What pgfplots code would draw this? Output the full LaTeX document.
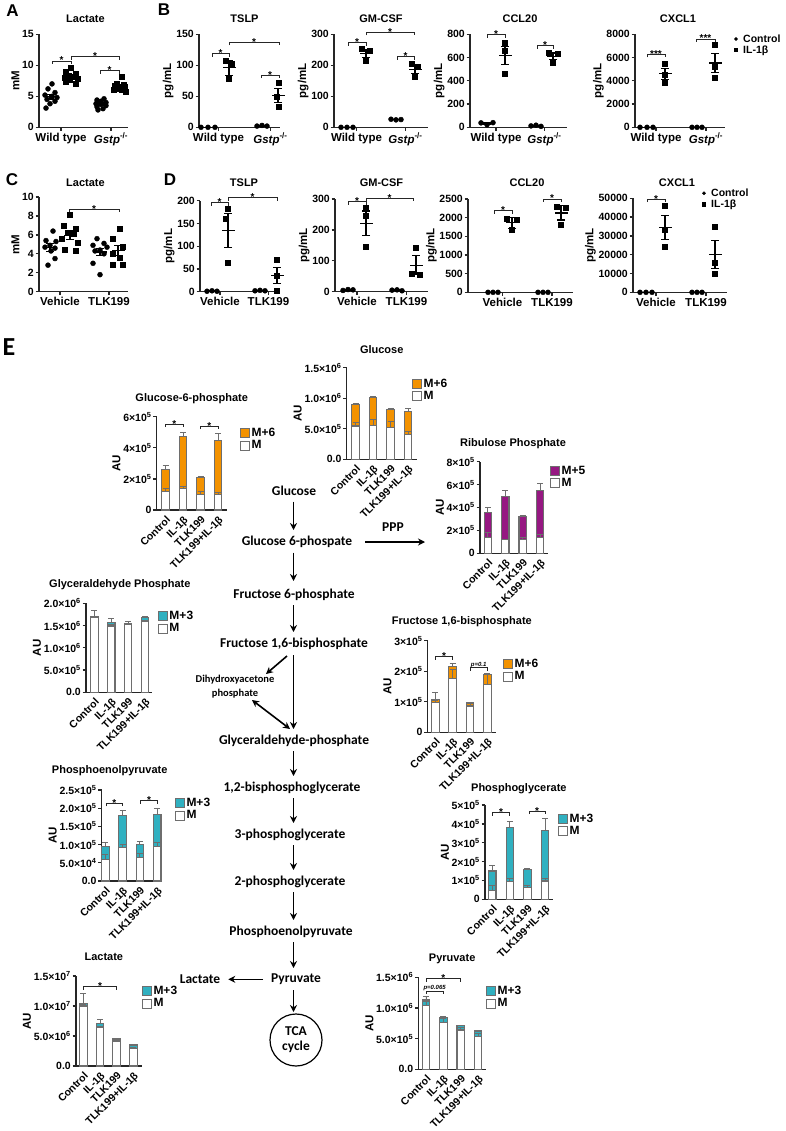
\documentclass[border=0pt]{standalone}
\usepackage{fontspec}
\setmainfont{Liberation Sans}
\newfontfamily\cali{Carlito}
\usepackage{pgfplots}
\pgfplotsset{compat=1.18}
\usetikzlibrary{calc,arrows.meta}
\definecolor{orng}{RGB}{243,146,0}
\definecolor{purp}{RGB}{150,24,130}
\definecolor{tealc}{RGB}{48,176,192}
\definecolor{edge}{RGB}{110,110,110}
\pgfplotsset{
 base/.style={scale only axis, anchor=south west, axis lines=left,
   axis line style={-, line width=1.3pt, black!85}, tick style={line width=1.3pt, black!85},
   tick align=outside, major tick length=3.5pt, minor tick length=0pt, ymin=0, clip=false,
   scaled y ticks=false, /pgf/number format/1000 sep={}, /pgf/number format/assume math mode=true,
   ylabel style={font=\fontsize{11.5}{13}\selectfont, inner sep=1pt},
   yticklabel style={font=\fontsize{10.5}{12}\selectfont, inner sep=1.5pt}},
 sc/.style={base, xticklabel style={font=\fontsize{11.5}{13}\selectfont, inner sep=2pt}, ylabel={pg/mL}},
 scleg/.style={legend style={draw=none, fill=none, inner sep=0pt, row sep=-0.5pt, at={(1,1)}, anchor=north west,
   font=\fontsize{10.5}{12}\selectfont, nodes={inner sep=1.2pt}}, legend cell align=left,
   legend image code/.code={\path[draw=none, fill=none] (0pt,-2pt) rectangle (8pt,2pt); \draw[mark repeat=2,mark phase=2,##1, mark size=1.6pt] plot coordinates {(0pt,0pt)(2pt,0pt)(8pt,0pt)};}},
 br/.style={base, xtick={0,1,2,3}, xticklabels={Control,IL-1β,TLK199,TLK199+IL-1β}, xtick style={draw=none},
   xticklabel style={rotate=45, anchor=north east, font=\fontsize{10.5}{12}\selectfont, inner sep=1pt},
   yticklabel style={font=\fontsize{10.5}{12}\selectfont}, ylabel={AU},
   legend image code/.code={\draw[##1] (0pt,-4.5pt) rectangle (9pt,4.5pt);},
   legend style={draw=none, fill=none, inner sep=0pt, row sep=0pt, at={(1,1)}, anchor=north west,
   font=\fontsize{12}{13}\selectfont, nodes={inner sep=1.2pt}}, legend cell align=left},
 dot/.style={only marks, mark=*, mark size=2.5pt, black},
 sq/.style={only marks, mark=square*, mark size=2.5pt, black},
 mean/.style={only marks, mark=-, mark size=6.5pt, mark options={line width=1.2pt}, black,
   error bars/y dir=both, error bars/y explicit, error bars/error bar style={line width=1.2pt},
   error bars/error mark options={rotate=90, mark size=4pt, line width=1.2pt}},
 tot/.style={ybar, bar width=7.5pt, bar shift=0pt, draw=edge, line width=1.1pt,
   error bars/y dir=plus, error bars/y explicit, error bars/error bar style={line width=0.9pt, edge},
   error bars/error mark options={rotate=90, mark size=3pt, line width=0.9pt, edge}},
}
\newcommand{\brk}[5][-3pt]{%
 \draw[line width=0.9pt, black!85] (axis cs:#2,#4) ++(0pt,-3pt) -- ++(0pt,3pt) -- (axis cs:#3,#4) -- ++(0pt,-3pt);
 \node[anchor=base, inner sep=0pt, yshift=#1, font=\fontsize{10}{10}\selectfont] at ($(axis cs:#2,#4)!0.5!(axis cs:#3,#4)$) {#5};}
\newcommand{\ttl}[3]{\node[anchor=center, xshift=#3, yshift=#2, font=\fontsize{11}{13}\selectfont] at (rel axis cs:0.5,1) {#1};}
\newcommand{\pv}[1]{\fontsize{6}{6}\selectfont\itshape #1}
\begin{document}
\bfseries
\begin{tikzpicture}
\useasboundingbox (0pt,0pt) rectangle (785pt,-1131pt);
% panel letters
\node[font=\fontsize{17}{17}\selectfont] at (12.5pt,-11pt) {A};
\node[font=\fontsize{17}{17}\selectfont] at (164pt,-10pt) {B};
\node[font=\fontsize{17}{17}\selectfont] at (12pt,-180pt) {C};
\node[font=\fontsize{17}{17}\selectfont] at (170pt,-180pt) {D};
\node[font=\cali\bfseries\fontsize{26}{26}\selectfont] at (9pt,-347pt) {E};

% ---------- A ----------
\begin{axis}[sc, at={(39pt,-127.3pt)}, width=89pt, height=93pt, xmin=39, xmax=128, ymax=15,
  ytick={0,5,10,15}, xtick={61,111}, xticklabels={Wild type,\textit{Gstp}\textsuperscript{-/-}}, ylabel={mM}]
\addplot[dot] coordinates {(52,7.0)(48,6.2)(55,5.6)(45,5.2)(52,5.0)(57,4.8)(47,4.5)(55,4.2)(50,3.8)(46,3.1)};
\addplot[sq] coordinates {(71,9.6)(66,8.9)(76,8.6)(69,8.3)(74,8.1)(65,8.0)(78,7.8)(70,7.6)(66,7.3)(76,7.1)};
\addplot[dot] coordinates {(104,4.6)(97,4.4)(101,4.2)(106,4.0)(96,3.8)(101,3.7)(106,3.5)(97,3.3)(103,3.0)(98,2.8)};
\addplot[sq] coordinates {(122,8.2)(117,7.0)(124,6.8)(115,6.7)(120,6.6)(125,6.5)(117,6.3)(122,6.1)(114,6.0)(126,5.8)};
\addplot[mean] coordinates {(50,4.94)+-(0,0.36) (71,8.13)+-(0,0.25) (101,3.73)+-(0,0.19) (120,6.6)+-(0,0.22)};
\brk{52}{71}{10.7}{*}\brk{71}{119}{11.4}{*}\brk{100}{119}{9.1}{*}
\ttl{Lactate}{16pt}{2pt}
\end{axis}

% ---------- B TSLP ----------
\begin{axis}[sc, at={(199pt,-127.3pt)}, width=81pt, height=93pt, xmin=199, xmax=280, ymax=150,
  ytick={0,50,100,150}, xtick={218.5,270.5}, xticklabels={Wild type,\textit{Gstp}\textsuperscript{-/-}}]
\addplot[dot] coordinates {(201,0)(208,0)(215,0)(257,2)(262,3)(267,2)};
\addplot[sq] coordinates {(226,108)(232,103)(229,78)(279,72)(277,49)(279,33)};
\addplot[mean] coordinates {(208,0)+-(0,0) (229,96)+-(0,12) (262,2.3)+-(0,0.3) (278,51)+-(0,11)};
\brk{212}{229}{119}{*}\brk{229}{279}{137}{*}\brk{261}{279}{84}{*}
\ttl{TSLP}{16pt}{5pt}
\end{axis}

% ---------- B GM-CSF ----------
\begin{axis}[sc, at={(334pt,-127.3pt)}, width=94pt, height=93pt, xmin=334, xmax=428, ymax=300,
  ytick={0,100,200,300}, xtick={356.5,405.5}, xticklabels={Wild type,\textit{Gstp}\textsuperscript{-/-}}]
\addplot[dot] coordinates {(341,0)(347,0)(353,0)(391,26)(396,24)(401,25)};
\addplot[sq] coordinates {(362,252)(370,248)(366,215)(412,205)(418,195)(415,162)};
\addplot[mean] coordinates {(347,0)+-(0,0) (366,238)+-(0,12) (396,25)+-(0,1) (415,187)+-(0,13)};
\brk{348}{366}{273}{*}\brk{366}{414}{306}{*}\brk{397}{414}{228}{*}
\ttl{GM-CSF}{16pt}{0pt}
\end{axis}

% ---------- B CCL20 ----------
\begin{axis}[sc, at={(470pt,-127.3pt)}, width=97pt, height=93pt, xmin=470, xmax=567, ymax=800,
  ytick={0,200,400,600,800}, xtick={496,544.5}, xticklabels={Wild type,\textit{Gstp}\textsuperscript{-/-}}]
\addplot[dot] coordinates {(481,38)(487,22)(493,40)(531,12)(536,18)(541,8)};
\addplot[sq] coordinates {(505,728)(505,660)(505,458)(549,640)(558,635)(553,560)};
\addplot[mean] coordinates {(487,33)+-(0,5) (505,615)+-(0,78) (536,13)+-(0,3) (553,612)+-(0,27)};
\brk{487}{505}{795}{*}\brk{537}{553}{702}{*}
\ttl{CCL20}{16pt}{1.5pt}
\end{axis}

% ---------- B CXCL1 ----------
\begin{axis}[sc, scleg, at={(635pt,-127.3pt)}, width=90pt, height=93pt, xmin=635, xmax=725, ymax=8000,
  ytick={0,2000,4000,6000,8000}, xtick={656,706}, xticklabels={Wild type,\textit{Gstp}\textsuperscript{-/-}},
  legend style={xshift=8.8pt, yshift=1.3pt}]
\addplot[dot] coordinates {(640,0)(647,0)(653,0)(692,0)(697,0)(702,0)};
\addlegendentry{Control}
\addplot[sq] coordinates {(665,5500)(665,4500)(665,3800)(715,7100)(715,5200)(715,4300)};
\addlegendentry{IL-1β}
\addplot[mean, forget plot] coordinates {(647,0)+-(0,0) (665,4600)+-(0,470) (697,0)+-(0,0) (715,5530)+-(0,790)};
\brk{647}{665}{6280}{***}\brk{696}{715}{7600}{***}
\ttl{CXCL1}{16pt}{-2pt}
\end{axis}

% ---------- C ----------
\begin{axis}[sc, at={(39pt,-291.7pt)}, width=89pt, height=94.7pt, xmin=39, xmax=128, ymax=10,
  ytick={0,2,4,6,8,10}, xtick={60,109}, xticklabels={Vehicle,TLK199}, ylabel={mM}]
\addplot[dot] coordinates {(53,6.4)(46,5.4)(56,5.3)(50,4.9)(45,4.7)(55,4.6)(51,4.3)(55,3.5)(48,2.8)};
\addplot[sq] coordinates {(70,8.1)(64,7.0)(76,6.7)(68,6.2)(74,6.1)(62,5.6)(78,5.2)(65,4.4)(76,4.3)};
\addplot[dot] coordinates {(97,5.6)(104,5.1)(93,4.9)(107,4.7)(100,4.4)(95,4.3)(104,4.0)(93,3.0)(100,1.8)};
\addplot[sq] coordinates {(120,6.7)(113,5.6)(123,4.7)(113,4.0)(120,3.6)(113,2.9)(123,2.9)};
\addplot[mean] coordinates {(50,4.66)+-(0,0.4) (70,5.96)+-(0,0.45) (100,4.2)+-(0,0.4) (118,4.34)+-(0,0.55)};
\brk{69}{119}{8.7}{*}
\ttl{Lactate}{14.3pt}{2pt}
\end{axis}

% ---------- D TSLP ----------
\begin{axis}[sc, at={(200pt,-291.7pt)}, width=78pt, height=91pt, xmin=200, xmax=278, ymax=200,
  ytick={0,50,100,150,200}, xtick={220,268.5}, xticklabels={Vehicle,TLK199}]
\addplot[dot] coordinates {(207,1)(212,2)(217,1)(255,2)(260,3)(265,2)};
\addplot[sq] coordinates {(228,183)(226,160)(228,63)(277,70)(277,35)(277,2)};
\addplot[mean] coordinates {(212,1.3)+-(0,0.3) (228,135)+-(0,37) (260,2.3)+-(0,0.3) (277,36)+-(0,18)};
\brk{211}{228}{196}{*}\brk{228}{277}{207}{*}
\ttl{TSLP}{18pt}{5pt}
\end{axis}

% ---------- D GM-CSF ----------
\begin{axis}[sc, at={(335pt,-291.7pt)}, width=93pt, height=92.7pt, xmin=335, xmax=428, ymax=300,
  ytick={0,100,200,300}, xtick={357,406.5}, xticklabels={Vehicle,TLK199}]
\addplot[dot] coordinates {(343,4)(348,7)(353,6)(392,5)(397,6)(402,3)};
\addplot[sq] coordinates {(366,272)(366,246)(366,146)(416,143)(412,59)(420,55)};
\addplot[mean] coordinates {(348,5.7)+-(0,1) (366,221)+-(0,40) (397,4.7)+-(0,1) (416,86)+-(0,30)};
\brk{348}{366}{291}{*}\brk{366}{413}{303}{*}
\ttl{GM-CSF}{16.3pt}{0pt}
\end{axis}

% ---------- D CCL20 ----------
\begin{axis}[sc, at={(468pt,-292.3pt)}, width=105pt, height=93.3pt, xmin=468, xmax=573, ymax=2500,
  ytick={0,500,1000,1500,2000,2500}, xtick={502.5,552}, xticklabels={Vehicle,TLK199}]
\addplot[dot] coordinates {(488,0)(493,0)(498,0)(538,0)(543,0)(548,0)};
\addplot[sq] coordinates {(507,1960)(517,1940)(512,1680)(557,2300)(566,2280)(561,1800)};
\addplot[mean] coordinates {(493,0)+-(0,0) (512,1860)+-(0,140) (543,0)+-(0,0) (561,2127)+-(0,190)};
\brk{494}{512}{2180}{*}\brk{543}{561}{2500}{*}
\ttl{CCL20}{16.3pt}{6.5pt}
\end{axis}

% ---------- D CXCL1 ----------
\begin{axis}[sc, scleg, at={(633pt,-292.3pt)}, width=94pt, height=94pt, xmin=633, xmax=727, ymax=50000,
  ytick={0,10000,20000,30000,40000,50000}, xtick={656,706}, xticklabels={Vehicle,TLK199},
  legend style={xshift=-25.2pt, yshift=11pt}]
\addplot[dot] coordinates {(640,0)(646,0)(652,0)(692,0)(697,0)(702,0)};
\addlegendentry{Control}
\addplot[sq] coordinates {(665,46000)(665,33500)(665,24000)(715,35000)(715,15500)(715,10000)};
\addlegendentry{IL-1β}
\addplot[mean, forget plot] coordinates {(646,0)+-(0,0) (665,34500)+-(0,6300) (697,0)+-(0,0) (715,20170)+-(0,7500)};
\brk{647}{665}{49600}{*}
\ttl{CXCL1}{15.6pt}{-3pt}
\end{axis}

% ================= E =================
% Glucose-6-phosphate
\begin{axis}[br, at={(156.7pt,-510pt)}, width=70pt, height=93.3pt, xmin=-0.51, xmax=3.49, ymax=6e5,
  ytick={0,2e5,4e5,6e5}, yticklabels={0,2×10\textsuperscript{5},4×10\textsuperscript{5},6×10\textsuperscript{5}},
  legend style={xshift=13.3pt, yshift=-10.3pt}]
\addplot[tot, fill=orng] coordinates {(0,2.6e5)+-(0,0.28e5) (1,4.75e5)+-(0,0.25e5) (2,2.08e5)+-(0,0.08e5) (3,4.45e5)+-(0,0.5e5)};
\addlegendentry{M+6}
\addplot[tot, fill=white] coordinates {(0,1.2e5)+-(0,0.2e5) (1,1.4e5)+-(0,0.14e5) (2,1.0e5)+-(0,0.22e5) (3,1.02e5)+-(0,0.1e5)};
\addlegendentry{M}
\brk{0}{1}{5.53e5}{*}\brk{2}{3}{5.4e5}{*}
\ttl{Glucose-6-phosphate}{18.4pt}{0pt}
\end{axis}

% Glucose
\begin{axis}[br, at={(346.7pt,-459.3pt)}, width=70pt, height=91.5pt, xmin=-0.51, xmax=3.49, ymax=1.5e6,
  ytick={0,5e5,1e6,1.5e6}, yticklabels={0.0,5.0×10\textsuperscript{5},1.0×10\textsuperscript{6},1.5×10\textsuperscript{6}},
  legend style={xshift=-4.7pt, yshift=-9.8pt}]
\addplot[tot, fill=orng] coordinates {(0,0.90e6)+-(0,0.02e6) (1,1.016e6)+-(0,0.015e6) (2,0.81e6)+-(0,0.02e6) (3,0.78e6)+-(0,0.055e6)};
\addlegendentry{M+6}
\addplot[tot, fill=white] coordinates {(0,0.546e6)+-(0,0.06e6) (1,0.552e6)+-(0,0.10e6) (2,0.52e6)+-(0,0.10e6) (3,0.40e6)+-(0,0.05e6)};
\addlegendentry{M}
\ttl{Glucose}{18.7pt}{0pt}
\end{axis}

% Ribulose Phosphate
\begin{axis}[br, at={(480pt,-553.3pt)}, width=68pt, height=91.6pt, xmin=-0.45, xmax=3.45, ymax=8e5,
  ytick={0,2e5,4e5,6e5,8e5}, yticklabels={0,2×10\textsuperscript{5},4×10\textsuperscript{5},6×10\textsuperscript{5},8×10\textsuperscript{5}},
  legend style={xshift=2pt, yshift=-3.3pt}]
\addplot[tot, fill=purp] coordinates {(0,3.55e5)+-(0,0.45e5) (1,4.94e5)+-(0,0.53e5) (2,3.2e5)+-(0,0.1e5) (3,5.5e5)+-(0,0.6e5)};
\addlegendentry{M+5}
\addplot[tot, fill=white] coordinates {(0,1.4e5)+-(0,0.43e5) (1,1.22e5)+-(0,0.03e5) (2,1.22e5)+-(0,0.18e5) (3,1.37e5)+-(0,0.29e5)};
\addlegendentry{M}
\ttl{Ribulose Phosphate}{18.4pt}{-1pt}
\end{axis}

% Glyceraldehyde Phosphate
\begin{axis}[br, at={(86pt,-692.3pt)}, width=65.7pt, height=89pt, xmin=-0.5, xmax=3.4, ymax=2e6,
  ytick={0,5e5,1e6,1.5e6,2e6}, yticklabels={0.0,5.0×10\textsuperscript{5},1.0×10\textsuperscript{6},1.5×10\textsuperscript{6},2.0×10\textsuperscript{6}},
  legend style={xshift=6.3pt, yshift=-6.7pt}]
\addplot[tot, fill=tealc] coordinates {(0,1.71e6)+-(0,0.12e6) (1,1.566e6)+-(0,0.1e6) (2,1.55e6)+-(0,0.04e6) (3,1.69e6)+-(0,0.02e6)};
\addlegendentry{M+3}
\addplot[tot, fill=white] coordinates {(0,1.69e6)+-(0,0.02e6) (1,1.49e6)+-(0,0.03e6) (2,1.52e6)+-(0,0.02e6) (3,1.59e6)+-(0,0.02e6)};
\addlegendentry{M}
\ttl{Glyceraldehyde Phosphate}{18.3pt}{1pt}
\end{axis}

% Fructose 1,6-bisphosphate
\begin{axis}[br, at={(427.7pt,-732.3pt)}, width=68.3pt, height=91.6pt, xmin=-0.44, xmax=3.5, ymax=3e5,
  ytick={0,1e5,2e5,3e5}, yticklabels={0,1×10\textsuperscript{5},2×10\textsuperscript{5},3×10\textsuperscript{5}},
  legend style={xshift=7pt, yshift=-17.3pt}]
\addplot[tot, fill=orng] coordinates {(0,1.06e5)+-(0,0.25e5) (1,2.17e5)+-(0,0.07e5) (2,0.97e5)+-(0,0.01e5) (3,1.88e5)+-(0,0.05e5)};
\addlegendentry{M+6}
\addplot[tot, fill=white] coordinates {(0,0.97e5)+-(0,0.08e5) (1,1.77e5)+-(0,0.29e5) (2,0.86e5)+-(0,0.08e5) (3,1.57e5)+-(0,0.33e5)};
\addlegendentry{M}
\brk{0}{1}{2.48e5}{*}\brk[1.5pt]{2}{3}{2.12e5}{\pv{p=0.1}}
\ttl{Fructose 1,6-bisphosphate}{19pt}{0pt}
\end{axis}

% Phosphoenolpyruvate
\begin{axis}[br, at={(101.7pt,-881pt)}, width=60pt, height=91pt, xmin=-0.21, xmax=3.26, ymax=2.5e5,
  ytick={0,5e4,1e5,1.5e5,2e5,2.5e5}, yticklabels={0.0,5.0×10\textsuperscript{4},1.0×10\textsuperscript{5},1.5×10\textsuperscript{5},2.0×10\textsuperscript{5},2.5×10\textsuperscript{5}},
  legend style={xshift=13.3pt, yshift=-7pt}]
\addplot[tot, fill=tealc] coordinates {(0,0.96e5)+-(0,0.09e5) (1,1.79e5)+-(0,0.15e5) (2,1.0e5)+-(0,0.09e5) (3,1.82e5)+-(0,0.16e5)};
\addlegendentry{M+3}
\addplot[tot, fill=white] coordinates {(0,0.59e5)+-(0,0.14e5) (1,0.91e5)+-(0,0.09e5) (2,0.64e5)+-(0,0.11e5) (3,0.94e5)+-(0,0.11e5)};
\addlegendentry{M}
\brk{0.05}{1}{2.13e5}{*}\brk{2.05}{3}{2.2e5}{*}
\ttl{Phosphoenolpyruvate}{19pt}{-22pt}
\end{axis}

% Phosphoglycerate
\begin{axis}[br, at={(485pt,-899.3pt)}, width=67.7pt, height=94.3pt, xmin=-0.41, xmax=3.43, ymax=5e5,
  ytick={0,1e5,2e5,3e5,4e5,5e5}, yticklabels={0,1×10\textsuperscript{5},2×10\textsuperscript{5},3×10\textsuperscript{5},4×10\textsuperscript{5},5×10\textsuperscript{5}},
  legend style={xshift=5.3pt, yshift=-7.7pt}]
\addplot[tot, fill=tealc] coordinates {(0,1.5e5)+-(0,0.27e5) (1,3.83e5)+-(0,0.32e5) (2,1.59e5)+-(0,0.05e5) (3,3.67e5)+-(0,0.62e5)};
\addlegendentry{M+3}
\addplot[tot, fill=white] coordinates {(0,0.49e5)+-(0,0.23e5) (1,0.94e5)+-(0,0.17e5) (2,0.62e5)+-(0,0.14e5) (3,0.97e5)+-(0,0.14e5)};
\addlegendentry{M}
\brk{0}{1}{4.59e5}{*}\brk{2.1}{3}{4.68e5}{*}
\ttl{Phosphoglycerate}{16.7pt}{0pt}
\end{axis}

% Lactate (E)
\begin{axis}[br, at={(76pt,-1066pt)}, width=65.7pt, height=90pt, xmin=-0.44, xmax=3.5, ymax=1.5e7,
  ytick={0,5e6,1e7,1.5e7}, yticklabels={0.0,5.0×10\textsuperscript{6},1.0×10\textsuperscript{7},1.5×10\textsuperscript{7}},
  legend style={xshift=0.3pt, yshift=-9pt}]
\addplot[tot, fill=tealc] coordinates {(0,1.044e7)+-(0,0.17e7) (1,0.71e7)+-(0,0.07e7) (2,0.45e7)+-(0,0.01e7) (3,0.35e7)+-(0,0.01e7)};
\addlegendentry{M+3}
\addplot[tot, fill=white] coordinates {(0,1.0e7)+-(0,0.02e7) (1,0.644e7)+-(0,0.02e7) (2,0.417e7)+-(0,0.01e7) (3,0.294e7)+-(0,0.02e7)};
\addlegendentry{M}
\brk{0}{2}{1.32e7}{*}
\ttl{Lactate}{19pt}{-5pt}
\end{axis}

% Pyruvate
\begin{axis}[br, at={(418.3pt,-1069.3pt)}, width=67.7pt, height=92pt, xmin=-0.44, xmax=3.45, ymax=1.5e6,
  ytick={0,5e5,1e6,1.5e6}, yticklabels={0.0,5.0×10\textsuperscript{5},1.0×10\textsuperscript{6},1.5×10\textsuperscript{6}},
  legend style={xshift=0pt, yshift=-7.7pt}]
\addplot[tot, fill=tealc] coordinates {(0,1.13e6)+-(0,0.055e6) (1,0.848e6)+-(0,0.01e6) (2,0.717e6)+-(0,0.005e6) (3,0.625e6)+-(0,0.01e6)};
\addlegendentry{M+3}
\addplot[tot, fill=white] coordinates {(0,1.04e6)+-(0,0.06e6) (1,0.766e6)+-(0,0.06e6) (2,0.641e6)+-(0,0.04e6) (3,0.533e6)+-(0,0.05e6)};
\addlegendentry{M}
\brk{0}{2}{1.48e6}{*}\brk[1.5pt]{0}{1}{1.275e6}{\pv{p=0.065}}
\ttl{Pyruvate}{18pt}{0pt}
\end{axis}

% ---------- pathway ----------
\begin{scope}[font=\cali\bfseries\fontsize{13.5}{15}\selectfont, arr/.style={line width=1.6pt, -{Stealth[length=7pt,width=7pt]}}]
\node at (294pt,-490.7pt) {Glucose};
\node at (297pt,-542.3pt) {Glucose 6-phospate};
\node at (393pt,-526.7pt) {PPP};
\node at (294pt,-595pt) {Fructose 6-phosphate};
\node at (294pt,-644pt) {Fructose 1,6-bisphosphate};
\node[font=\cali\bfseries\fontsize{10.5}{13.5}\selectfont, align=center] at (235pt,-686.5pt) {Dihydroxyacetone\\phosphate};
\node at (294pt,-741pt) {Glyceraldehyde-phosphate};
\node at (292pt,-788pt) {1,2-bisphosphoglycerate};
\node at (290pt,-835pt) {3-phosphoglycerate};
\node at (290pt,-881.7pt) {2-phosphoglycerate};
\node at (291pt,-931.7pt) {Phosphoenolpyruvate};
\node at (296pt,-979.3pt) {Pyruvate};
\node at (200pt,-979.3pt) {Lactate};
\node[align=center] at (296pt,-1040pt) {TCA\\cycle};
\draw[line width=1.2pt] (296pt,-1040pt) circle (26pt);
\draw[arr] (293.5pt,-501.7pt) -- (293.5pt,-530pt);
\draw[arr] (293.5pt,-552.7pt) -- (293.5pt,-581pt);
\draw[arr] (293.5pt,-605pt) -- (293.5pt,-632pt);
\draw[arr] (293.5pt,-655pt) -- (293.5pt,-729pt);
\draw[arr] (287pt,-656pt) -- (266pt,-674pt);
\draw[line width=1.6pt, {Stealth[length=7pt,width=7pt]}-{Stealth[length=7pt,width=7pt]}] (252pt,-700pt) -- (290pt,-729pt);
\draw[arr] (293.5pt,-751pt) -- (293.5pt,-776pt);
\draw[arr] (293.5pt,-798pt) -- (293.5pt,-823pt);
\draw[arr] (293.5pt,-845pt) -- (293.5pt,-870pt);
\draw[arr] (293.5pt,-892pt) -- (293.5pt,-920pt);
\draw[arr] (293.5pt,-942pt) -- (293.5pt,-968pt);
\draw[arr] (263pt,-979.3pt) -- (228.3pt,-979.3pt);
\draw[arr] (293.5pt,-990pt) -- (293.5pt,-1012pt);
\draw[arr] (365pt,-542pt) -- (425pt,-542pt);
\end{scope}
\end{tikzpicture}
\end{document}
